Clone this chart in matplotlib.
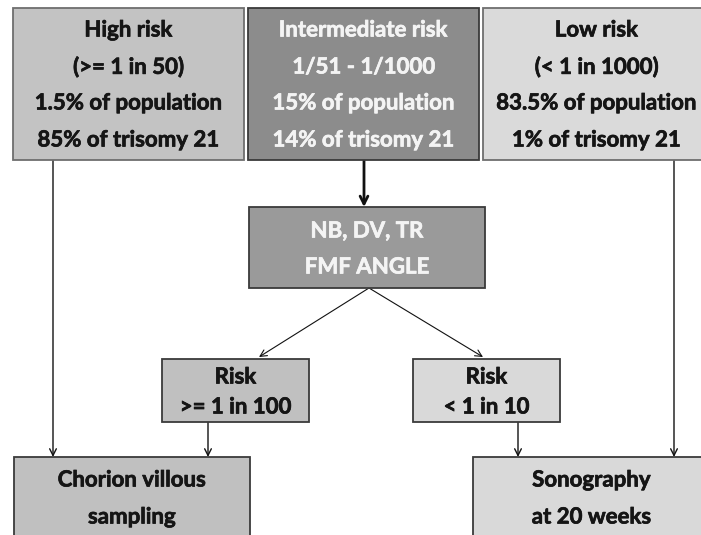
import matplotlib
matplotlib.use("Agg")
import matplotlib.pyplot as plt
import matplotlib.patheffects as pe
from matplotlib.patches import Rectangle

# Textes des cases
high_lines = ["High risk", "(>= 1 in 50)", "1.5% of population", "85% of trisomy 21"]
mid_lines = ["Intermediate risk", "1/51 - 1/1000", "15% of population", "14% of trisomy 21"]
low_lines = ["Low risk", "(< 1 in 1000)", "83.5% of population", "1% of trisomy 21"]
test_lines = ["NB, DV, TR", "FMF ANGLE"]
risk_hi_lines = ["Risk", ">= 1 in 100"]
risk_lo_lines = ["Risk", "< 1 in 10"]
cvs_lines = ["Chorion villous", "sampling"]
sono_lines = ["Sonography", "at 20 weeks"]

W, H = 701, 535
fig = plt.figure(figsize=(W / 100, H / 100), dpi=100)
ax = fig.add_axes([0, 0, 1, 1])
ax.set_xlim(0, W)
ax.set_ylim(H, 0)
ax.axis("off")

FONT = dict(family="Lato", weight="bold", fontsize=16)


def box(x0, y0, x1, y1, lines, ys, fill, txt="#151515", edge="#6e6e6e"):
    ax.add_patch(Rectangle((x0, y0), x1 - x0, y1 - y0, facecolor=fill,
                           edgecolor=edge, linewidth=1.3, zorder=2))
    cx = (x0 + x1) / 2
    for s, y in zip(lines, ys):
        # leger contour pour epaissir le trait (Calibri gras dans l'original)
        ax.text(cx, y, s, ha="center", va="center", color=txt, zorder=3,
                path_effects=[pe.withStroke(linewidth=0.5, foreground=txt)], **FONT)


def arrow(x0, y0, x1, y1, lw=1.0, ms=12):
    ax.annotate("", xy=(x1, y1), xytext=(x0, y0),
                arrowprops=dict(arrowstyle="->", color="#111111", lw=lw,
                                mutation_scale=ms, shrinkA=0, shrinkB=0), zorder=1)


top_y = [30, 67, 103, 140]
box(13, 8, 244, 160, high_lines, top_y, "#c3c3c3")
box(248, 8, 479, 160, mid_lines, top_y, "#8c8c8c", txt="#f4f4f4", edge="#3a3a3a")
box(483, 8, 710, 160, low_lines, top_y, "#dadada")
box(249, 207, 485, 288, test_lines, [231, 267], "#9a9a9a", txt="#f4f4f4", edge="#3a3a3a")
box(162, 359, 309, 422, risk_hi_lines, [377, 407], "#c0c0c0", edge="#3a3a3a")
box(413, 359, 560, 422, risk_lo_lines, [377, 407], "#d9d9d9", edge="#3a3a3a")
box(14, 457, 250, 545, cvs_lines, [480, 517], "#c0c0c0", edge="#3a3a3a")
box(473, 457, 710, 545, sono_lines, [480, 517], "#d9d9d9", edge="#3a3a3a")

arrow(53, 160, 53, 457)
arrow(674, 160, 674, 457)
arrow(364, 160, 364, 207, lw=2.0, ms=14)
arrow(369, 288, 259, 357, lw=0.8)
arrow(369, 288, 483, 357, lw=0.8)
arrow(208, 422, 208, 457)
arrow(518, 422, 518, 457)

fig.savefig("out.png", dpi=100)
